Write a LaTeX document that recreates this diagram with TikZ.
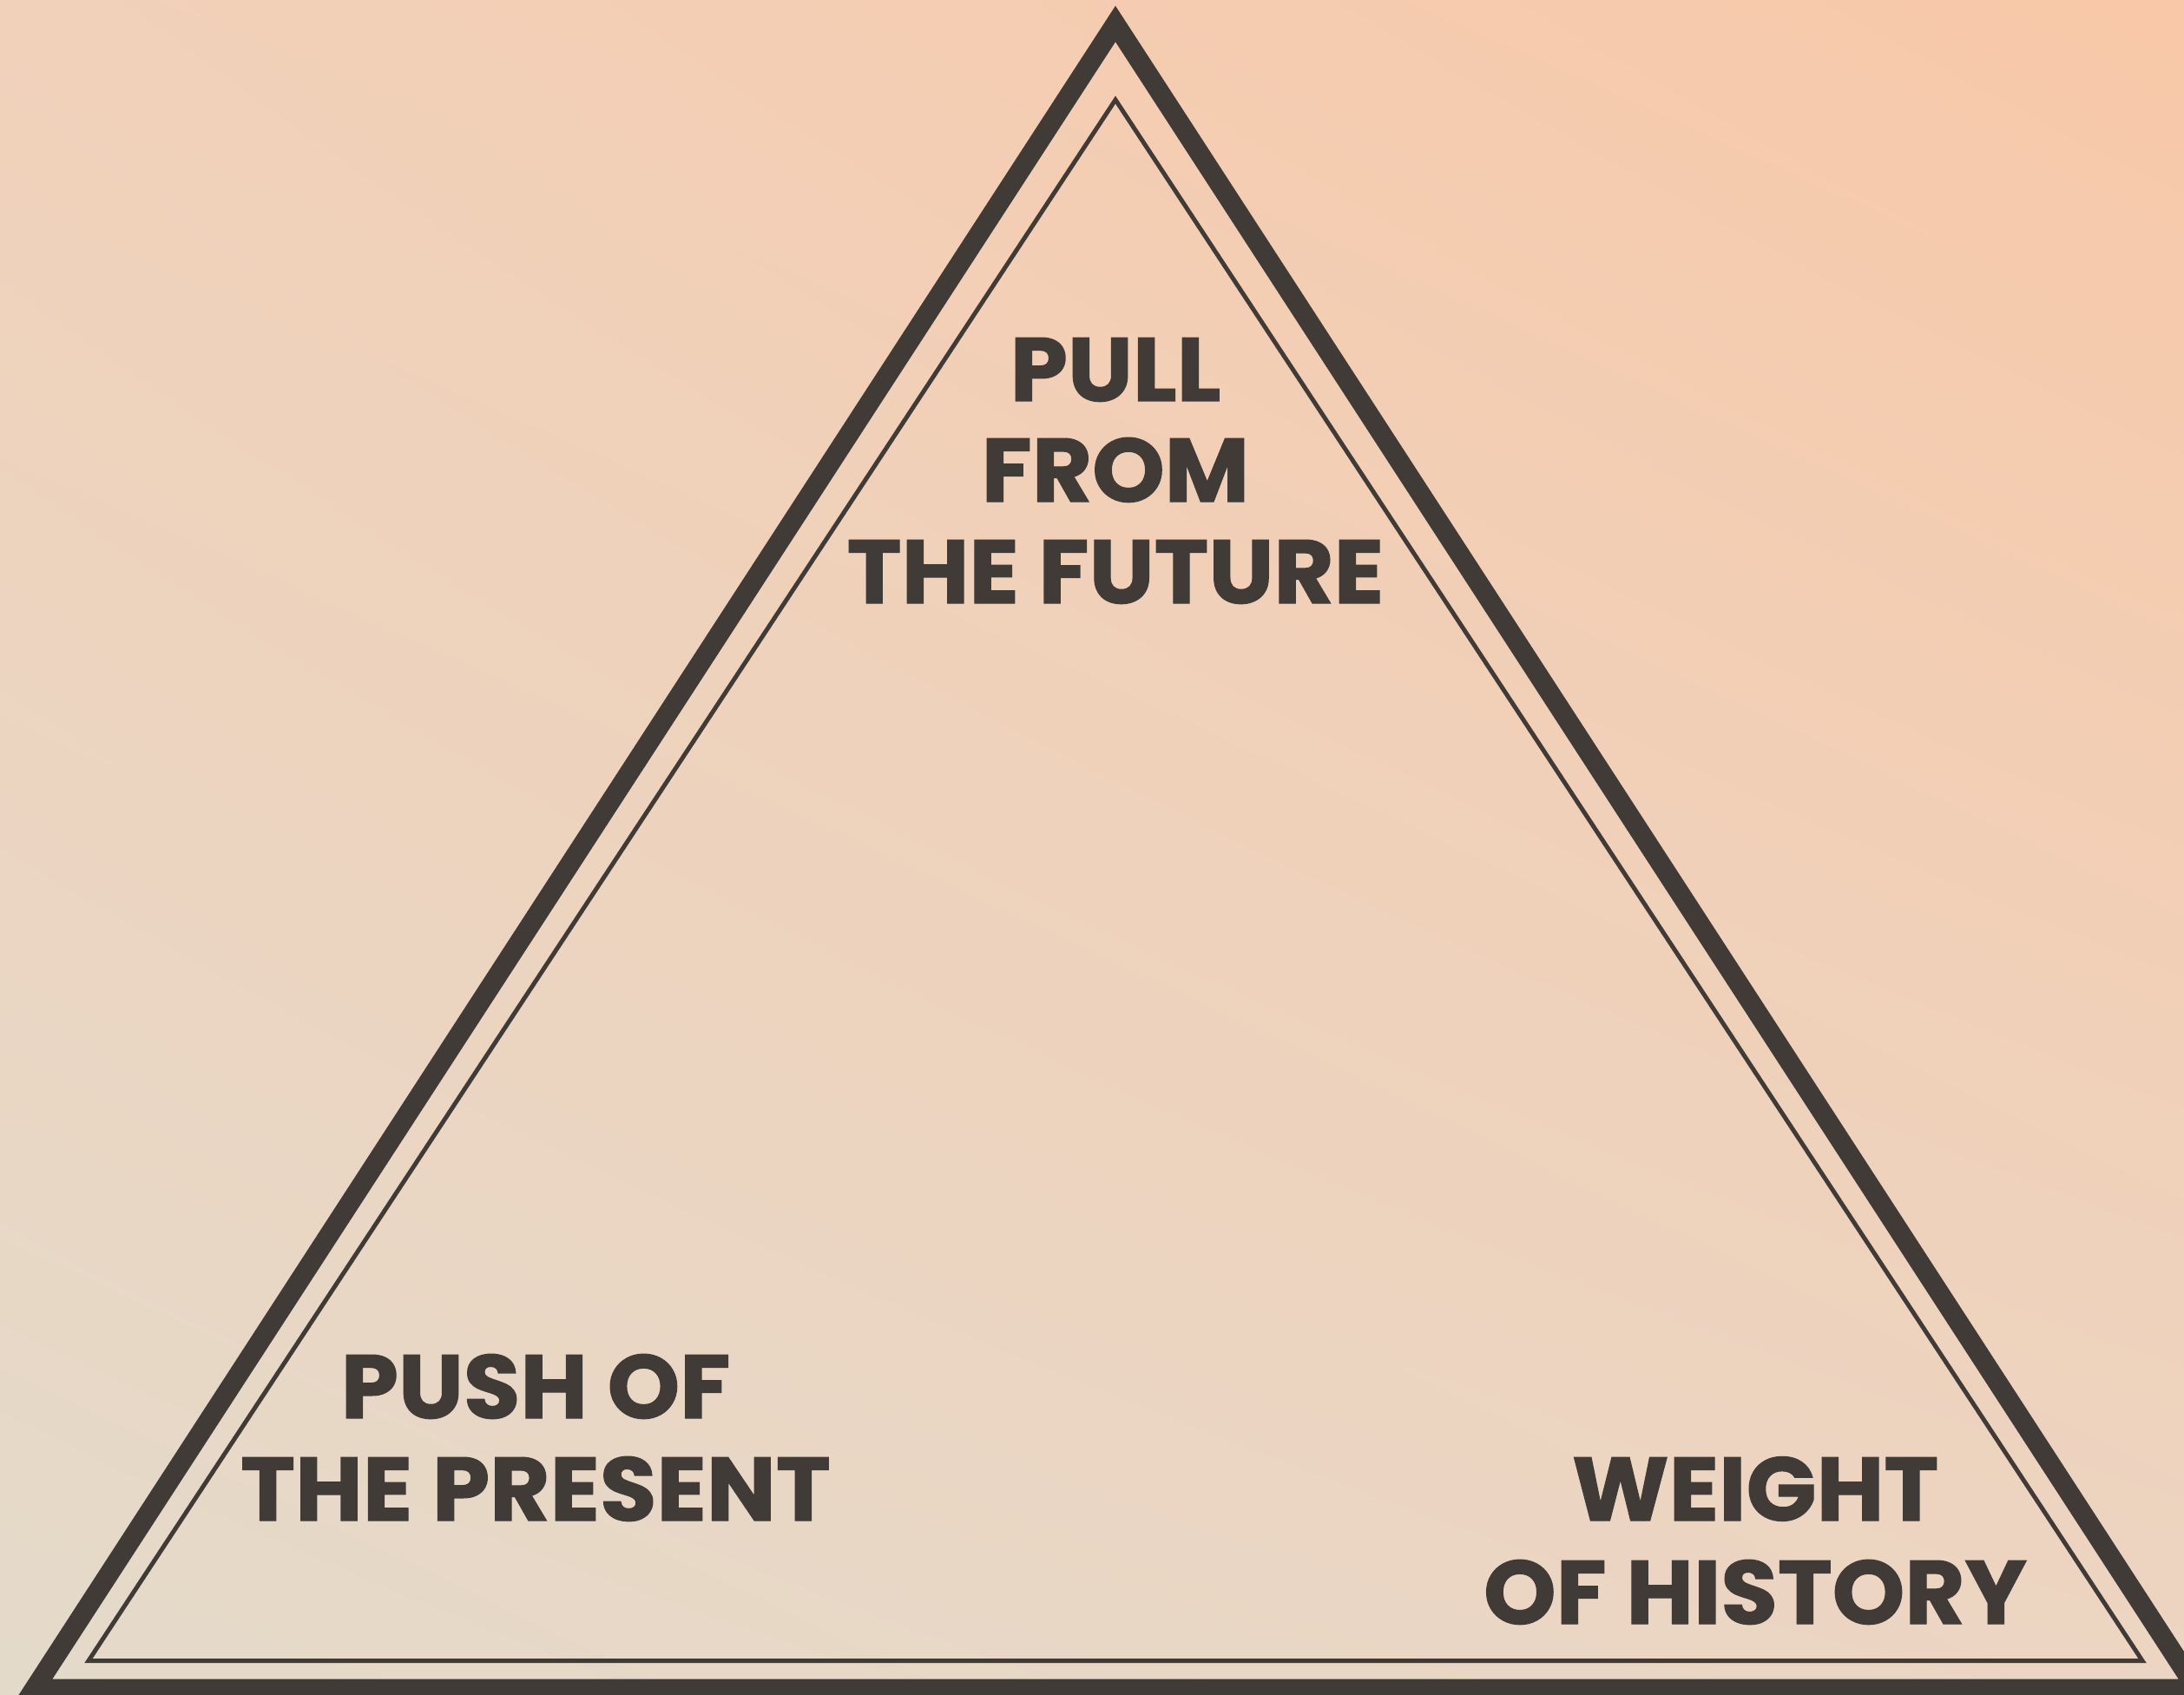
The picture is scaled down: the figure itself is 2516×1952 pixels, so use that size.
\documentclass[tikz,border=0pt]{standalone}
\usepackage{fontspec}
\usetikzlibrary{shadings}
\setmainfont{Poppins}[BoldFeatures={FakeBold=1.2, FakeStretch=1.025}]
\definecolor{ink}{RGB}{64,59,55}
\definecolor{bgUL}{RGB}{241,209,186}
\definecolor{bgUR}{RGB}{248,200,168}
\definecolor{bgLL}{RGB}{228,218,202}
\definecolor{bgLR}{RGB}{236,213,194}
\tikzset{
  label text/.style={text=ink, inner sep=0pt, anchor=base,
    font=\fontsize{29.5pt}{33pt}\selectfont\bfseries},
  outer frame/.style={draw=ink, line width=0.226cm, line join=miter, miter limit=10},
  inner frame/.style={draw=ink, line width=0.05cm, line join=miter, miter limit=10}
}
\begin{document}
\begin{tikzpicture}[x=0.01cm, y=-0.01cm]
  \useasboundingbox (0,0) rectangle (2516,1952);
  \clip (0,0) rectangle (2516,1952);
  % background wash
  \shade[upper left=bgUL, upper right=bgUR, lower left=bgLL, lower right=bgLR]
    (0,0) rectangle (2516,1952);
  % double triangle frame
  \coordinate (oTop) at (1285,27.5);
  \coordinate (oLeft) at (39.5,1946);
  \coordinate (oRight) at (2530.5,1946);
  \coordinate (iTop) at (1285,115);
  \coordinate (iLeft) at (102,1913.5);
  \coordinate (iRight) at (2468,1913.5);
  \draw[outer frame] (oTop) -- (oLeft) -- (oRight) -- cycle;
  \draw[inner frame] (iTop) -- (iLeft) -- (iRight) -- cycle;
  % labels
  \node[label text] (future1) at (1285,462) {PULL};
  \node[label text] (future2) at (1285,578) {FROM};
  \node[label text] (future3) at (1285,695) {THE FUTURE};
  \node[label text] (present1) at (617,1634) {PUSH OF};
  \node[label text] (present2) at (617,1752) {THE PRESENT};
  \node[label text] (history1) at (2022,1752) {WEIGHT};
  \node[label text] (history2) at (2022,1871) {OF HISTORY};
\end{tikzpicture}
\end{document}
